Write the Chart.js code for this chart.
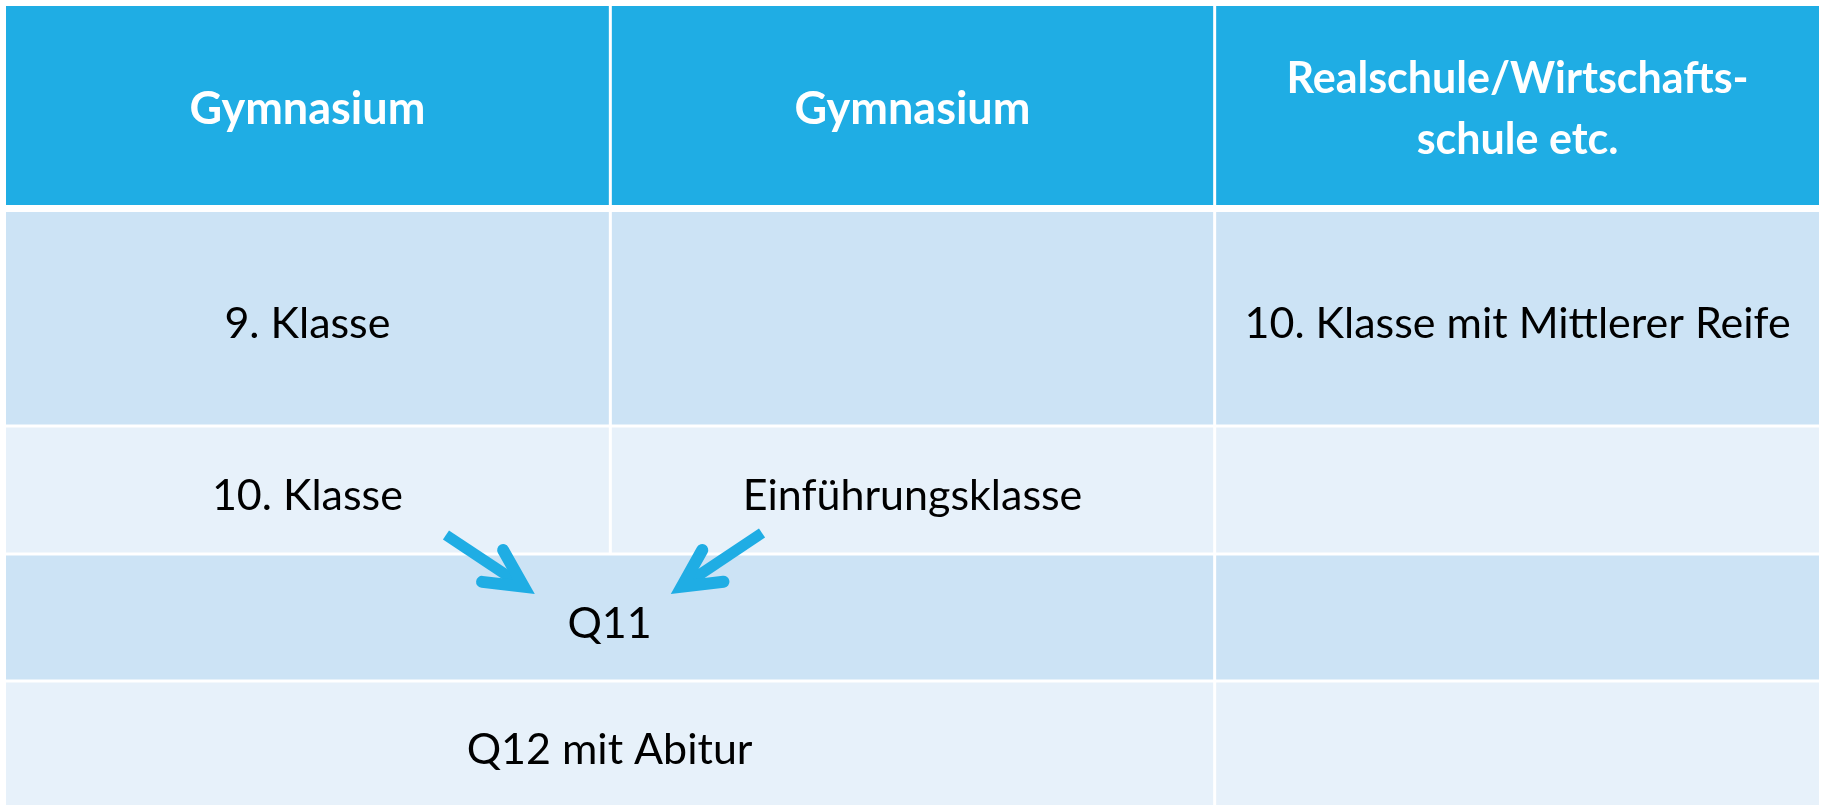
<!DOCTYPE html>
<html>
<head>
<meta charset="utf-8">
<script src="https://cdn.jsdelivr.net/npm/chart.js@4.4.0/dist/chart.umd.min.js"></script>
<style>
  html, body { margin: 0; padding: 0; background: #fff; }
  #wrap { width: 1825px; height: 805px; }
</style>
</head>
<body>
<div id="wrap"><canvas id="table"></canvas></div>
<script>
// column headers (one entry per line)
const headerLabels = [['Gymnasium'], ['Gymnasium'], ['Realschule/Wirtschafts-', 'schule etc.']];

// body rows: text and how many columns each cell spans
const row9 = ['9. Klasse', '', '10. Klasse mit Mittlerer Reife'];
const row9Spans = [1, 1, 1];
const row10 = ['10. Klasse', 'Einführungsklasse', ''];
const row10Spans = [1, 1, 1];
const rowQ11 = ['Q11', ''];
const rowQ11Spans = [2, 1];
const rowQ12 = ['Q12 mit Abitur', ''];
const rowQ12Spans = [2, 1];

// arrows into Q11, in table units (column, height)
const arrowFrom = [[0.728, 529], [1.251, 527]];
const arrowTo = [[0.875, 588], [1.100, 588]];

// row extents on the y axis
const rowTop = [0, 206, 420, 548, 675];
const rowBottom = [199, 420, 548, 675, 799];

const headerColor = '#1FADE4';
const rowColors = ['#CCE3F5', '#E7F1FA', '#CCE3F5', '#E7F1FA'];

const bodyRows = [
  { text: row9, spans: row9Spans },
  { text: row10, spans: row10Spans },
  { text: rowQ11, spans: rowQ11Spans },
  { text: rowQ12, spans: rowQ12Spans }
];

const tablePlugin = {
  id: 'tablePlugin',
  beforeDatasetsDraw(chart) {
    const { ctx, scales: { x, y } } = chart;
    const gap = 1.5;
    ctx.save();

    // header
    headerLabels.forEach((lines, i) => {
      const x0 = x.getPixelForValue(i) + (i > 0 ? gap : 0);
      const x1 = x.getPixelForValue(i + 1) - (i < 2 ? gap : 0);
      const y0 = y.getPixelForValue(rowTop[0]);
      const y1 = y.getPixelForValue(rowBottom[0]);
      ctx.fillStyle = headerColor;
      ctx.fillRect(x0, y0, x1 - x0, y1 - y0);
      ctx.fillStyle = '#fff';
      ctx.font = lines.length > 1 ? 'bold 43px Lato' : 'bold 45px Lato';
      ctx.textAlign = 'center';
      ctx.textBaseline = 'alphabetic';
      const cx = (x0 + x1) / 2;
      const cy = (y0 + y1) / 2;
      const lh = 61;
      lines.forEach((t, k) => {
        const by = cy + 18 + (k - (lines.length - 1) / 2) * lh;
        ctx.fillText(t, cx, by);
      });
    });

    // body
    bodyRows.forEach((row, r) => {
      let col = 0;
      row.text.forEach((t, c) => {
        const span = row.spans[c];
        const x0 = x.getPixelForValue(col) + (col > 0 ? gap : 0);
        const x1 = x.getPixelForValue(col + span) - (col + span < 3 ? gap : 0);
        const y0 = y.getPixelForValue(rowTop[r + 1]) + (r > 0 ? gap : 0);
        const y1 = y.getPixelForValue(rowBottom[r + 1]) - (r < 3 ? gap : 0);
        ctx.fillStyle = rowColors[r];
        ctx.fillRect(x0, y0, x1 - x0, y1 - y0);
        if (t) {
          ctx.fillStyle = '#000';
          ctx.font = '43px Lato';
          ctx.textAlign = 'center';
          ctx.textBaseline = 'alphabetic';
          ctx.fillText(t, (x0 + x1) / 2, (y0 + y1) / 2 + 20);
        }
        col += span;
      });
    });

    // arrows
    ctx.strokeStyle = headerColor;
    ctx.fillStyle = headerColor;
    arrowFrom.forEach((from, i) => {
      const fx = x.getPixelForValue(from[0]);
      const fy = y.getPixelForValue(from[1]);
      const tx = x.getPixelForValue(arrowTo[i][0]);
      const ty = y.getPixelForValue(arrowTo[i][1]);
      const ang = Math.atan2(fy - ty, fx - tx);
      const spread = 27 * Math.PI / 180;
      const w = 12;
      const back = (w / 2) / Math.sin(spread);
      const vx = tx + Math.cos(ang) * back;
      const vy = ty + Math.sin(ang) * back;
      const len = 42;
      // shaft
      ctx.beginPath();
      ctx.lineWidth = 11;
      ctx.lineCap = 'butt';
      ctx.moveTo(fx, fy);
      ctx.lineTo(vx, vy);
      ctx.stroke();
      // head
      ctx.beginPath();
      ctx.lineWidth = w;
      ctx.lineCap = 'round';
      ctx.lineJoin = 'miter';
      ctx.miterLimit = 10;
      ctx.moveTo(vx + Math.cos(ang + spread) * len, vy + Math.sin(ang + spread) * len);
      ctx.lineTo(vx, vy);
      ctx.lineTo(vx + Math.cos(ang - spread) * len, vy + Math.sin(ang - spread) * len);
      ctx.stroke();
    });

    ctx.restore();
  }
};

new Chart(document.getElementById('table'), {
  type: 'scatter',
  data: { datasets: [{ data: [], pointRadius: 0 }] },
  options: {
    responsive: true,
    maintainAspectRatio: false,
    animation: false,
    layout: { padding: { left: 6, right: 6, top: 6, bottom: 0 } },
    plugins: { legend: { display: false }, tooltip: { enabled: false } },
    scales: {
      x: { type: 'linear', min: 0, max: 3, display: false },
      y: { type: 'linear', min: 0, max: 799, reverse: true, display: false }
    }
  },
  plugins: [tablePlugin]
});
</script>
</body>
</html>
